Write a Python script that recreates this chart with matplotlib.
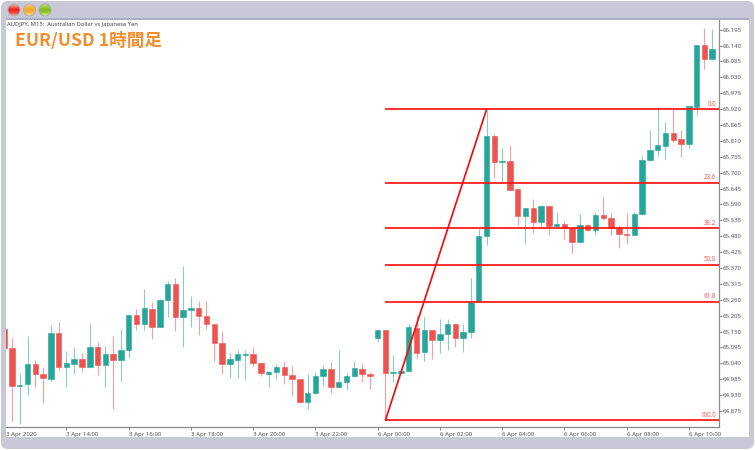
import numpy as np
import matplotlib
matplotlib.use("Agg")
import matplotlib.pyplot as plt
from matplotlib.patches import Circle, FancyBboxPatch, Rectangle
from matplotlib.colors import LinearSegmentedColormap

opens = [65.158,65.092,64.960,64.967,65.038,65.003,64.987,65.144,65.026,65.038,65.054,65.028,65.095,65.033,65.071,65.051,
         65.086,65.206,65.176,65.227,65.165,65.259,65.316,65.199,65.225,65.232,65.203,65.175,65.110,65.038,65.053,65.070,
         65.071,65.042,65.004,65.011,65.026,65.000,64.987,64.905,64.937,64.996,65.022,64.959,64.975,64.995,65.022,65.003,
         65.127,65.154,65.008,65.008,65.015,65.162,65.079,65.155,65.121,65.143,65.175,65.128,65.148,65.255,
         65.481,65.827,65.737,65.739,65.642,65.550,65.579,65.528,65.585,65.515,65.521,65.507,65.459,65.518,65.500,65.552,
         65.543,65.507,65.488,65.484,65.556,65.744,65.778,65.794,65.836,65.815,65.800,65.927,66.143,66.095]
highs = [65.158,65.126,65.005,65.136,65.051,65.028,65.173,65.182,65.083,65.095,65.076,65.178,65.113,65.100,65.136,65.158,
         65.211,65.227,65.296,65.252,65.262,65.325,65.334,65.376,65.273,65.255,65.255,65.175,65.152,65.077,65.085,65.086,
         65.097,65.042,65.015,65.038,65.048,65.032,64.987,65.003,65.009,65.035,65.043,65.086,65.008,65.048,65.042,65.011,
         65.156,65.154,65.069,65.015,65.175,65.207,65.199,65.155,65.192,65.192,65.178,65.175,65.334,65.504,
         65.917,65.833,65.787,65.796,65.642,65.579,65.608,65.587,65.585,65.564,65.534,65.507,65.557,65.521,65.564,65.615,
         65.562,65.519,65.560,65.565,65.760,65.848,65.929,65.874,65.922,65.848,65.932,66.143,66.201,66.197]
lows = [65.092,64.840,64.831,64.931,64.957,64.904,64.980,65.016,64.957,65.004,65.010,65.024,64.998,64.957,64.883,64.980,
        65.060,65.155,65.157,65.124,65.165,65.201,65.153,65.098,65.166,65.137,65.158,65.048,65.002,64.990,64.989,64.983,
        65.032,64.995,64.959,64.986,64.970,64.928,64.902,64.883,64.933,64.963,64.937,64.958,64.947,64.992,64.976,64.952,
        65.115,64.844,64.974,65.005,65.014,65.055,65.049,65.055,65.077,65.086,65.095,65.079,65.129,65.254,
        65.450,65.683,65.669,65.641,65.519,65.453,65.491,65.507,65.485,65.508,65.471,65.423,65.458,65.498,65.485,65.537,
        65.483,65.438,65.453,65.483,65.553,65.742,65.758,65.748,65.805,65.754,65.787,65.901,66.058,66.095]
closes = [65.092,64.961,64.966,65.036,65.003,64.989,65.144,65.027,65.040,65.054,65.028,65.095,65.033,65.071,65.053,65.085,
          65.206,65.176,65.230,65.166,65.260,65.316,65.199,65.225,65.232,65.203,65.176,65.110,65.038,65.054,65.071,65.072,
          65.041,65.007,65.011,65.028,65.000,64.985,64.905,64.937,64.996,65.022,64.958,64.975,64.995,65.024,65.004,64.997,
          65.154,65.005,65.010,65.015,65.165,65.077,65.155,65.121,65.140,65.175,65.128,65.147,65.253,65.481,
          65.827,65.736,65.740,65.641,65.551,65.578,65.530,65.585,65.515,65.521,65.507,65.459,65.518,65.500,65.553,65.542,
          65.507,65.489,65.485,65.557,65.744,65.780,65.796,65.837,65.814,65.800,65.930,66.143,66.095,66.127]

price_ticks = [66.195,66.140,66.085,66.030,65.975,65.920,65.865,65.810,65.755,65.700,65.645,65.590,65.535,65.480,
               65.425,65.370,65.315,65.260,65.205,65.150,65.095,65.040,64.985,64.930,64.875]
price_labels = ["66.195","66.140","66.085","66.030","65.975","65.920","65.865","65.810","65.755","65.700","65.645",
                "65.590","65.535","65.480","65.425","65.370","65.315","65.260","65.205","65.150","65.095","65.040",
                "64.985","64.930","64.875"]
time_ticks = [0,8,16,24,32,40,48,56,64,72,80,88]
time_labels = ["3 Apr 2020","3 Apr 14:00","3 Apr 16:00","3 Apr 18:00","3 Apr 20:00","3 Apr 22:00",
               "6 Apr 00:00","6 Apr 02:00","6 Apr 04:00","6 Apr 06:00","6 Apr 08:00","6 Apr 10:00"]
fib_levels = [0.0,23.6,38.2,50.0,61.8,100.0]
fib_high, fib_low = 65.919, 64.843
fib_start, fib_end = 49, 62
title = "EUR/USD 1時間足"
subtitle = "AUDJPY, M15:  Australian Dollar vs Japanese Yen"

W, H = 755, 450
TEAL, RED, FIB = "#26A69A", "#EF5350", "#FF1414"
TXT = "#555555"
plt.rcParams['font.family'] = ['Noto Sans', 'DejaVu Sans']

fig = plt.figure(figsize=(W/100, H/100), dpi=100, facecolor="white")

# window chrome in pixel coordinates
bg = fig.add_axes([0, 0, 1, 1], zorder=0)
bg.set_xlim(0, W); bg.set_ylim(H, 0); bg.axis("off")
bg.add_patch(FancyBboxPatch((1, 1), W-2, H-2, boxstyle="round,pad=0,rounding_size=7",
                            fc="#C8C8D6", ec="none"))
bg.add_patch(Rectangle((6, 18), 743, 2, fc="#ADADBF", ec="none"))
bg.add_patch(Rectangle((6, 20), 743, 417, fc="white", ec="none"))
lights = [(14, ["#F2C8C0", "#F08070", "#EE1C1C", "#E84A3A", "#F4B8A8"]),
          (29.5, ["#F6E0B8", "#F6C060", "#F5A623", "#F5B84A", "#F8E0A0"]),
          (45, ["#D8E8B0", "#A8D050", "#7DBB1A", "#98C840", "#D8F0A0"])]
for cx, stops in lights:
    cmap = LinearSegmentedColormap.from_list("l", stops)
    im = bg.imshow(np.linspace(0, 1, 32)[:, None], extent=(cx-6.5, cx+6.5, 16.5, 3.5), cmap=cmap,
                   aspect="auto", zorder=2)
    c = Circle((cx, 10), 6, transform=bg.transData, fc="none", ec="#A8A8AC", lw=0.6, zorder=3)
    bg.add_patch(c)
    im.set_clip_path(c)
bg.set_xlim(0, W); bg.set_ylim(H, 0)

# chart
ax = fig.add_axes([6/W, (H-426.7)/H, 712.7/W, 406.7/H], zorder=1)
ax.patch.set_alpha(0)
x = np.arange(len(opens))
colors = [TEAL if c >= o else RED for o, c in zip(opens, closes)]
ax.vlines(x, lows, highs, colors=colors, lw=0.8, alpha=0.55, zorder=2)
ax.bar(x, np.abs(np.array(closes)-np.array(opens)), bottom=np.minimum(opens, closes), width=0.70,
       color=colors, edgecolor=colors, lw=0.4, zorder=3)

xmin, xmax = 0.231, 91.84
ax.plot([fib_start, fib_end], [fib_low, fib_high], color="#F01010", lw=1.25, zorder=5,
        solid_capstyle="butt")
for lv in fib_levels:
    p = fib_high - (fib_high-fib_low)*lv/100
    ax.plot([fib_start, xmax], [p, p], color=FIB, lw=1.25, zorder=4, solid_capstyle="butt")
    ax.annotate(f"{lv:.1f}", (xmax, p), xytext=(-2, 1), textcoords="offset points", ha="right", va="bottom",
                fontsize=4.5, color="#F26060")

ax.set_xlim(xmin, xmax)
ax.set_ylim(64.8206, 66.2286)
for s in ("left", "top"):
    ax.spines[s].set_visible(False)
for s in ("right", "bottom"):
    ax.spines[s].set_color("#8C8C8C"); ax.spines[s].set_linewidth(0.9)
ax.yaxis.tick_right()
ax.set_yticks(price_ticks, price_labels)
ax.set_xticks(time_ticks[1:], time_labels[1:], ha="left")
ax.tick_params(axis="y", length=2.2, width=0.6, color="#777777", labelsize=4.4, labelcolor=TXT, pad=0.8)
ax.tick_params(axis="x", length=2, width=0.6, color="#777777", labelsize=4.4, labelcolor=TXT, pad=1.8)
# the first time label starts at the clipped left edge of the axes
ax.annotate(time_labels[0], (xmin, 0), xycoords=("data", "axes fraction"), xytext=(0, -3.8),
            textcoords="offset points", ha="left", va="top", fontsize=4.4, color=TXT)

fig.text(7/W, 1-24.5/H, subtitle, fontsize=4.2, color="#444444", va="center", ha="left")
fig.text(15/W, 1-41/H, title, fontsize=12.7, fontweight="bold", color="#F28E2B", va="center", ha="left",
         family=["Noto Sans CJK JP", "DejaVu Sans"])
fig.savefig("out.png", dpi=100)
